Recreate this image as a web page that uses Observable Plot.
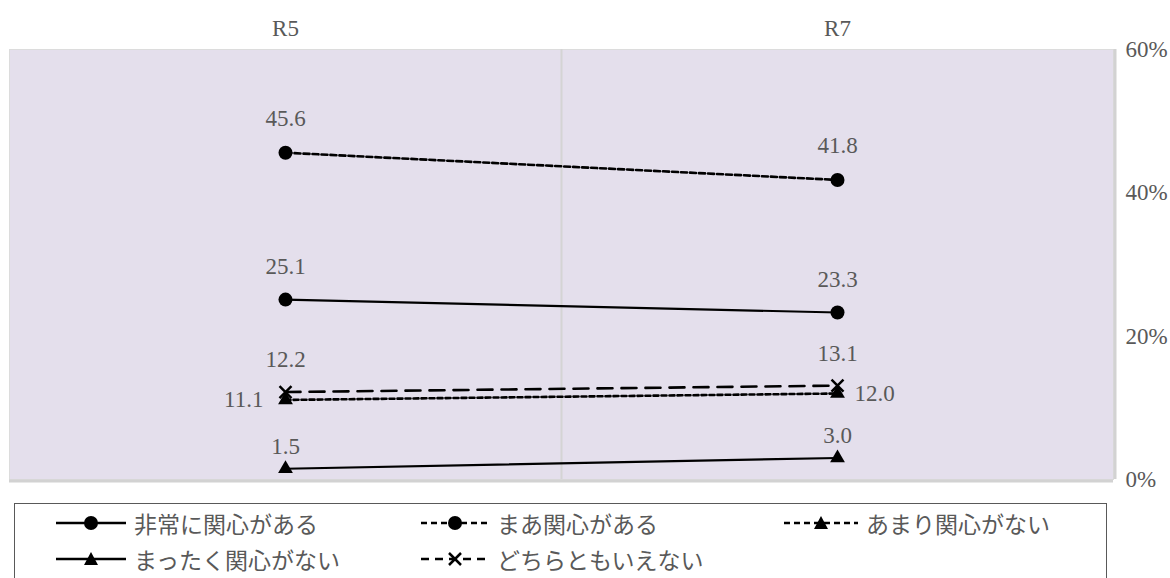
<!DOCTYPE html>
<html>
<head>
<meta charset="utf-8">
<script src="https://cdn.jsdelivr.net/npm/d3@7"></script>
<script src="https://cdn.jsdelivr.net/npm/@observablehq/plot@0.6"></script>
<style>
  html, body { margin: 0; padding: 0; background: #fff; width: 1170px; height: 578px; overflow: hidden; }
  #chart { position: absolute; left: 0; top: 0; }
  #legend { position: absolute; left: 14px; top: 503px; width: 1093px; height: 100px; border: 1px solid #595959; box-sizing: border-box; background: #fff; }
  .item { position: absolute; display: flex; align-items: center; height: 30px; }
  .item span { font-family: "Noto Sans CJK JP", "Noto Sans", sans-serif; font-size: 23px; color: #595959; margin-left: 8px; white-space: nowrap; line-height: 30px; }
</style>
</head>
<body>
<div id="chart"></div>
<div id="legend"></div>
<script>
// ---- data ----
const categories = ["R5", "R7"];
const seriesNames = ["非常に関心がある", "まあ関心がある", "あまり関心がない", "まったく関心がない", "どちらともいえない"];
const veryInterested = [25.1, 23.3];
const somewhatInterested = [45.6, 41.8];
const notVeryInterested = [11.1, 12.0];
const notAtAllInterested = [1.5, 3.0];
const neitherValues = [12.2, 13.1];
const yTicks = [0, 20, 40, 60];

const seriesValues = [veryInterested, somewhatInterested, notVeryInterested, notAtAllInterested, neitherValues];

// ---- styles (kept apart from data) ----
const styles = [
  {dash: null, width: 2.2, symbol: "circle", r: 7, lx: 0, ly: -33, anchor: "middle"},
  {dash: "6,3", width: 2.6, symbol: "circle", r: 7, lx: 0, ly: -34, anchor: "middle"},
  {dash: "5,3", width: 2.6, symbol: "triangle", r: 5.5, lx: null, ly: 0, anchor: null},
  {dash: null, width: 2.2, symbol: "triangle", r: 5.5, lx: 0, ly: -22, anchor: "middle"},
  {dash: "15,9", width: 2.6, symbol: "times", r: 5.5, lx: 0, ly: -32, anchor: "middle"}
];

const rows = [];
seriesValues.forEach((vals, s) => {
  vals.forEach((v, i) => rows.push({series: seriesNames[s], s, i, x: i + 0.5, value: v}));
});

const marks = [
  Plot.frame({fill: "#e4dfec", stroke: "#dcdcdc"}),
  Plot.ruleY([0], {stroke: "#d2d2d2", strokeWidth: 3, dy: 1.5}),
  Plot.ruleX([categories.length], {stroke: "#d2d2d2", strokeWidth: 3, dx: 1.5}),
  Plot.ruleX(d3.range(1, categories.length), {stroke: "#d4d4d4", strokeWidth: 2}),
  Plot.axisX({anchor: "top", label: null, ticks: categories.map((c, i) => i + 0.5), tickFormat: d => categories[Math.floor(d)], tickSize: 0, tickPadding: 14}),
  Plot.axisY({anchor: "right", label: null, ticks: yTicks, tickFormat: d => d + "%", tickSize: 0, tickPadding: 12})
];

seriesNames.forEach((name, s) => {
  const st = styles[s];
  const data = rows.filter(d => d.s === s);
  marks.push(Plot.line(data, {x: "x", y: "value", stroke: "#000", strokeWidth: st.width, strokeDasharray: st.dash || undefined}));
});
seriesNames.forEach((name, s) => {
  const st = styles[s];
  const data = rows.filter(d => d.s === s);
  if (st.symbol === "times") {
    marks.push(Plot.dot(data, {x: "x", y: "value", symbol: "times", r: st.r, stroke: "#000", strokeWidth: 2.5}));
  } else {
    marks.push(Plot.dot(data, {x: "x", y: "value", symbol: st.symbol, r: st.r, fill: "#000", stroke: "none"}));
  }
});
// labels
seriesNames.forEach((name, s) => {
  const st = styles[s];
  const data = rows.filter(d => d.s === s);
  if (st.anchor) {
    marks.push(Plot.text(data, {x: "x", y: "value", text: d => d.value.toFixed(1), dy: st.ly, dx: st.lx, textAnchor: st.anchor}));
  } else {
    marks.push(Plot.text(data.filter(d => d.i === 0), {x: "x", y: "value", text: d => d.value.toFixed(1), dx: -22, textAnchor: "end"}));
    marks.push(Plot.text(data.filter(d => d.i === categories.length - 1), {x: "x", y: "value", text: d => d.value.toFixed(1), dx: 17, textAnchor: "start"}));
  }
});

const chart = Plot.plot({
  width: 1170,
  height: 495,
  marginLeft: 9,
  marginRight: 57,
  marginTop: 49,
  marginBottom: 16,
  x: {type: "linear", domain: [0, categories.length], axis: null},
  y: {type: "linear", domain: [0, 60], axis: null},
  style: {fontFamily: "'Liberation Serif', serif", fontSize: "23px", color: "#595959", background: "#fff", overflow: "visible"},
  marks
});
document.getElementById("chart").appendChild(chart);

// ---- legend ----
const legendOrder = [[0, 1, 2], [3, 4]];
const colX = [41, 406, 769];
const rowY = [4, 40];
const sampleW = [70, 68, 74];
const legend = document.getElementById("legend");
function markerSvg(st, cx, cy) {
  if (st.symbol === "circle") return `<circle cx="${cx}" cy="${cy}" r="7" fill="#000"/>`;
  if (st.symbol === "triangle") {
    const h = 12, w = 14;
    return `<path d="M${cx},${cy - h / 2 - 1}L${cx + w / 2},${cy + h / 2}L${cx - w / 2},${cy + h / 2}Z" fill="#000"/>`;
  }
  return `<path d="M${cx - 6},${cy - 6}L${cx + 6},${cy + 6}M${cx + 6},${cy - 6}L${cx - 6},${cy + 6}" stroke="#000" stroke-width="2.5"/>`;
}
legendOrder.forEach((row, r) => {
  row.forEach((s, c) => {
    const st = styles[s];
    const w = sampleW[c];
    const dash = st.dash ? (st.symbol === "times" ? "8,6" : "6,4") : null;
    const div = document.createElement("div");
    div.className = "item";
    div.style.left = colX[c] + "px";
    div.style.top = rowY[r] + "px";
    div.innerHTML = `<svg width="${w}" height="20" style="display:block"><line x1="0" x2="${w}" y1="10" y2="10" stroke="#000" stroke-width="2.4" ${dash ? `stroke-dasharray="${dash}"` : ""}/>${markerSvg(st, w / 2, 10)}</svg><span>${seriesNames[s]}</span>`;
    legend.appendChild(div);
  });
});
</script>
</body>
</html>
